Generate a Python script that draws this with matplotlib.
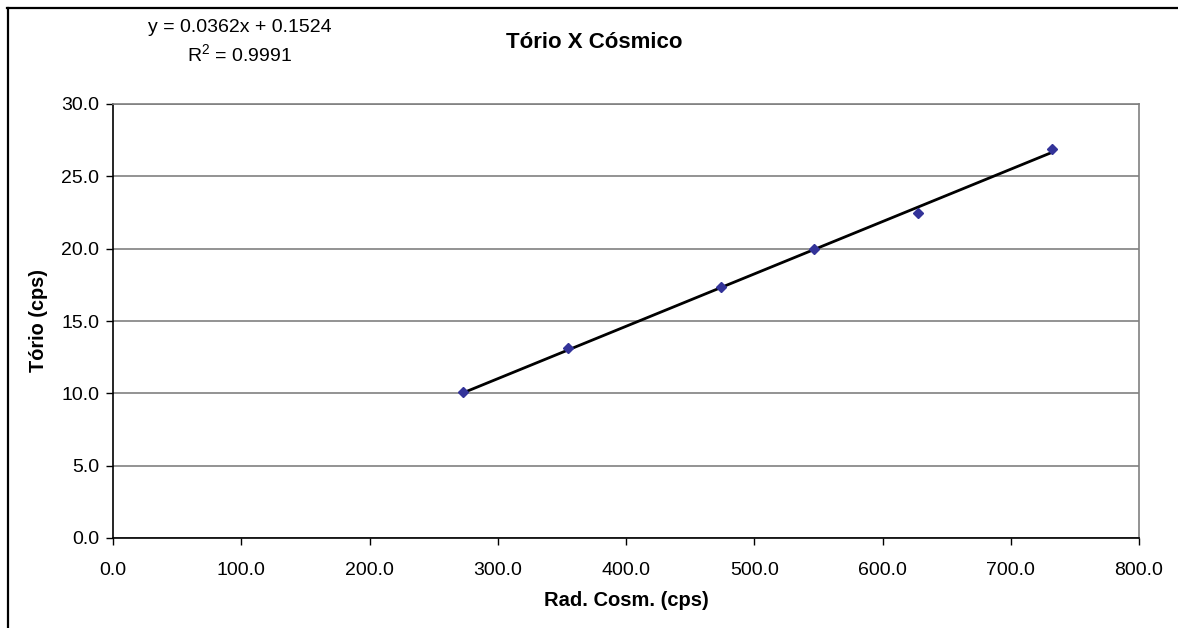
#!/usr/bin/env python3
import matplotlib
matplotlib.use('Agg')
import matplotlib.pyplot as plt
from matplotlib.lines import Line2D

# data
rad_cosm = [272.9, 354.4, 473.8, 546.6, 627.4, 732.4]
torio = [10.09, 13.11, 17.32, 19.95, 22.44, 26.86]
slope = 0.0362
intercept = 0.1524
r2 = 0.9991
x_ticks = [0, 100, 200, 300, 400, 500, 600, 700, 800]
y_ticks = [0, 5, 10, 15, 20, 25, 30]

plt.rcParams['font.family'] = ['Liberation Sans', 'DejaVu Sans']
plt.rcParams['mathtext.fontset'] = 'custom'
plt.rcParams['mathtext.rm'] = 'Liberation Sans'

W, H = 1178, 628
fig = plt.figure(figsize=(W / 100, H / 100), dpi=100)
ax = fig.add_axes([113 / W, 1 - 538 / H, (1139 - 113) / W, (538 - 104) / H])

# trendline from min to max x
x0, x1 = min(rad_cosm), max(rad_cosm)
ax.plot([x0, x1], [slope * x0 + intercept, slope * x1 + intercept],
        color='black', lw=2.0, zorder=3)
ax.plot(rad_cosm, torio, linestyle='none', marker='D', markersize=5.5,
        color='#333399', zorder=4)

ax.set_xlim(0, 800)
ax.set_ylim(0, 30)
ax.set_xticks(x_ticks)
ax.set_yticks(y_ticks)
ax.set_xticklabels([f'{v:.1f}' for v in x_ticks])
ax.set_yticklabels([f'{v:.1f}' for v in y_ticks])
ax.tick_params(axis='both', direction='out', length=5, width=1, labelsize=14, colors='black')
ax.tick_params(axis='x', pad=12)
ax.tick_params(axis='y', pad=5)
ax.grid(axis='y', color='#808080', lw=1.2)
ax.set_axisbelow(True)

for side in ['top', 'right']:
    ax.spines[side].set_color('#808080')
    ax.spines[side].set_linewidth(1.2)
for side in ['left', 'bottom']:
    ax.spines[side].set_color('black')
    ax.spines[side].set_linewidth(1.2)

ax.set_xlabel('Rad. Cosm. (cps)', fontsize=14.5, fontweight='bold', va='center')
ax.set_ylabel('Tório (cps)', fontsize=14.3, fontweight='bold', va='center')
ax.xaxis.set_label_coords(0.5, (538 - 601) / 434)
ax.yaxis.set_label_coords((38 - 113) / 1026, 0.5)

fig.text(594 / W, 1 - 48 / H, 'Tório X Cósmico', ha='center', va='baseline',
         fontsize=16, fontweight='bold')
fig.text(240 / W, 1 - 32 / H, f'y = {slope}x + {intercept}', ha='center', va='baseline',
         fontsize=14)
fig.text(240 / W, 1 - 62 / H, f'R$^{{2}}$ = {r2}', ha='center', va='baseline',
         fontsize=14)

# chart-area border (only top and left visible in the crop)
fig.add_artist(Line2D([7 / W, 1], [1 - 7.5 / H, 1 - 7.5 / H],
                      transform=fig.transFigure, color='black', lw=1.6))
fig.add_artist(Line2D([7.5 / W, 7.5 / W], [0, 1 - 7.5 / H],
                      transform=fig.transFigure, color='black', lw=1.6))

fig.savefig('out.png', dpi=100)
plt.close(fig)
